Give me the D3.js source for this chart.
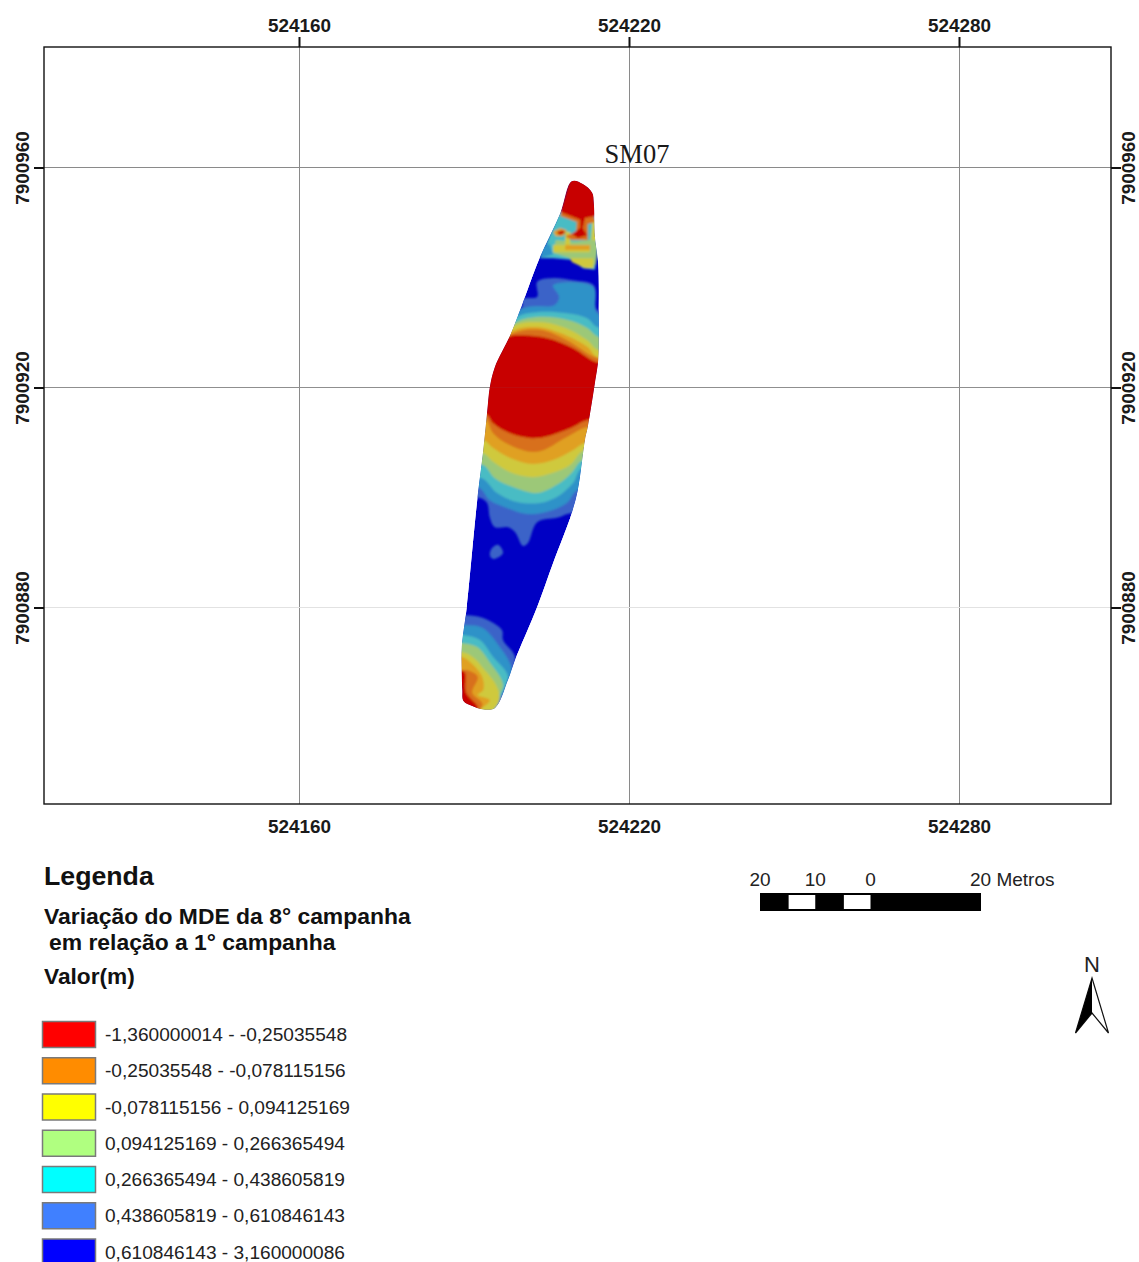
<!DOCTYPE html>
<html><head><meta charset="utf-8">
<script src="https://cdn.jsdelivr.net/npm/d3@7"></script>
<style>html,body{margin:0;background:#fff}svg{display:block}text{font-family:"Liberation Sans",Arial,sans-serif}</style>
</head><body><svg id="c" width="1139" height="1262"></svg>
<script>
// Map grid
const eastTicks=[524160,524220,524280];
const northTicks=[7900960,7900920,7900880];
const gridColors=["#8a8a8a","#8f8f8f","#e2e2e2"];
const originE=524200, originN=7900900;
// Legend
const legendLabels=["-1,360000014 - -0,25035548","-0,25035548 - -0,078115156","-0,078115156 - 0,094125169","0,094125169 - 0,266365494","0,266365494 - 0,438605819","0,438605819 - 0,610846143","0,610846143 - 3,160000086"];
const legendColors=["#ff0000","#ff8c00","#ffff00","#b0ff80","#00ffff","#4080ff","#0000ff"];
// Raster band shades as they show on the map
const cDeep="#0000c4",cMid="#3a64c8",cSky="#2f92c8",cTeal="#48bcc4",cGreen="#9cc878",cYellow="#cfc93c",cGold="#e0a020",cOrange="#d8701a",cRed="#c80606";
// Survey footprint (metres east, north of the origin)
const outline=[[9.6,57.5],[11.6,57],[13.3,55.4],[13.6,53.5],[13.8,47.4],[14.4,42.6],[14.5,32.8],[14.4,25],[13.8,20.8],[12.5,12.8],[12,10.5],[10.7,1.4],[9.6,-2.8],[6.2,-11.9],[3.3,-19.9],[-0.7,-29.5],[-2,-33.2],[-4.4,-38.3],[-6.7,-38.5],[-8.5,-37.9],[-10.1,-37],[-10.3,-35],[-10.4,-32],[-10.4,-27.2],[-9.5,-19.9],[-7.6,-0.5],[-6.5,8.6],[-5.8,15.4],[-5.3,20.1],[-4.4,23.7],[-1.6,29.5],[0.2,34.1],[3.8,43.7],[7.5,51.7]];
// Contour bands in the central lobe: painted from the outer class to the core
const midBand=[[0.5,34.6],[0.7,36.1],[3.3,36.5],[3.3,39.2],[6.2,39.9],[9.8,39.5],[13.6,38.6],[14.2,34.1],[18.4,34.1],[18.4,-3],[9.6,-2.8],[6.9,-3.7],[3.3,-4.5],[1.6,-8.3],[0.7,-8.8],[-0.7,-6.3],[-2,-5.4],[-4.4,-5.4],[-5.3,-3.7],[-5.8,-1],[-7.1,-0.1],[-10.7,0.1],[-10.7,20],[-3.5,34.1]];
const skyBand=[[0.2,34.1],[6.5,35],[7.3,36.5],[6.2,38.6],[13.5,38.3],[14.2,33.5],[18.4,33.5],[18.4,1.4],[10.7,1.4],[8.7,-1],[5.1,-2.6],[1.5,-3],[-2.2,-1.9],[-5.3,-0.5],[-7.1,1.7],[-8.9,1.7],[-8.9,20]];
const tealBand=[[-0.7,32.6],[3.3,33.7],[8.7,33.5],[12.4,32.6],[14.2,31],[18.4,31],[18.4,5.4],[11.5,5.4],[9.8,2.6],[6.9,0.1],[3.8,-1],[-0.4,-0.8],[-4,0.8],[-6.7,3.5],[-9.8,3.5],[-9.8,20]];
const greenBand=[[-1.1,31.5],[3.3,32.8],[8.7,32.3],[12.4,30.8],[14.4,29.2],[18.4,29.2],[18.4,6.8],[11.6,6.8],[9.6,4.5],[6.9,2.3],[3.3,0.8],[-1.1,1.9],[-4.4,3.5],[-6.5,5.9],[-9.8,5.9],[-9.8,20]];
const yellowBand=[[-1.3,31],[3.3,31.9],[8,31],[12.4,28.6],[14.4,26.8],[18.4,26.8],[18.4,8.6],[11.8,8.6],[9.3,5.9],[6.2,4.5],[2.5,3.7],[-1.6,4.6],[-4.7,6.5],[-6.5,8.1],[-9.8,8.1],[-9.8,20]];
const goldBand=[[-1.5,30.1],[3.3,31],[7.5,29.9],[12.4,27.4],[14.2,25.5],[18.4,25.5],[18.4,9.9],[12,9.9],[9.8,8.6],[6.2,6.8],[2.5,6.1],[-1.6,7.2],[-4.7,9],[-6.5,10.5],[-9.8,10.5],[-9.8,20]];
const orangeBand=[[-2,29.4],[3.8,30.5],[8.7,28.6],[14.2,25.4],[18.4,25.4],[18.4,12.8],[12.4,12.8],[8.7,11],[3.3,8.3],[-1.6,9.5],[-4.7,11.7],[-6.2,14.5],[-9.8,14.5],[-9.8,20]];
const redCore=[[-2,29.2],[0.7,29.5],[5.1,29],[9.8,27.2],[14.2,24.6],[18.4,24.6],[18.4,14.1],[12.5,14.1],[9.3,12.6],[3.3,10.8],[-1.6,11.7],[-4.7,13.5],[-5.8,15],[-8.9,15.9],[-7.1,24.6]];
const blueIsle=[[-4.9,-9.2],[-3.8,-8.6],[-2.9,-10.1],[-4.7,-11.2],[-5.3,-10.5]];
// Southern lobe
const southMid=[[-9.5,-21.4],[-6.5,-21.9],[-3.1,-24.1],[-2.9,-25.9],[-0.7,-29],[-2,-33.2],[-5,-40],[-14,-40],[-14,-21.4]];
const southSky=[[-9.8,-23.2],[-6.7,-23.7],[-4,-26.5],[-1.3,-31.4],[-2.9,-35],[-5,-40],[-14,-40],[-14,-23.2]];
const southTeal=[[-10.2,-25],[-7.1,-25.9],[-4.7,-29],[-2,-32.6],[-4.4,-38],[-6,-40],[-14,-40],[-14,-25]];
const southGreen=[[-10.2,-26.5],[-7.6,-27.2],[-5.3,-30],[-2.9,-34.1],[-4.4,-37.4],[-4.4,-40],[-14,-40],[-14,-26.5]];
const southYellow=[[-10.4,-28.1],[-8.4,-29],[-6.2,-31.4],[-4.4,-33.7],[-3.5,-36.3],[-4.4,-38.3],[-9,-40],[-14,-40],[-14,-28.1]];
const southGold=[[-10.4,-29],[-8.9,-29.9],[-6.7,-32.6],[-6.5,-35],[-7.5,-35.9],[-5.3,-36.8],[-6.5,-38.1],[-10.8,-40],[-14,-40],[-14,-29]];
const southOrange=[[-10.4,-31.4],[-9.3,-31.4],[-7.5,-32.6],[-8.5,-35.5],[-6.7,-37.4],[-7,-38.5],[-11,-40],[-14,-40],[-14,-31.4]];
const southRed=[[-10.4,-31.4],[-9.8,-31.9],[-9.6,-35.5],[-7.5,-38.1],[-8,-38.8],[-11,-40],[-14,-38],[-14,-31.4]];
// Northern tip, broken terrain
const tipTeal=[[3.8,43.5],[6.2,43.5],[9.8,43.2],[11.6,41.7],[13.8,41.4],[14.4,45.5],[13.8,51.7],[7.5,52.3]];
const tipSky=[[3.8,43.5],[6.2,44.2],[5.5,46.2],[4.2,45.6]];
const tipGreen=[[6.7,46.8],[10.2,46.5],[12.9,46.8],[13.3,49.4],[13.8,50.8],[14.4,48.3],[14,42.3],[10.2,42.8],[9.3,43.5],[6.2,44.5]];
const tipStripe=[[6.2,45.9],[12.9,45.9],[12.9,44.6],[6.2,44.6]];
const tipColumn=[[8.4,48.3],[9.3,48.3],[9.3,45.4],[8.4,45.4]];
const tipMosaic=[[9.3,43.5],[13.5,43.5],[13.6,41.7],[12,41.7],[9.6,42.8]];
const tipRightStrip=[[13.3,50.5],[14.1,50.5],[14.1,46.8],[13.3,46.8]];
const tipGold=[[8.4,45.9],[12.9,45.9],[12.9,45],[8.4,45]];
const tipOrange=[[7.8,52.3],[13.6,51.5],[13.8,50.1],[12.5,49.7],[12.5,46.8],[9.6,46.8],[8.4,47.5],[10.4,48.3],[10.5,50.1],[7.5,51.2]];
const tipRed=[[9.4,58.5],[12,58],[14,56],[14.4,53.5],[14,51.2],[12,50.8],[11.6,49],[12.4,47.7],[10.7,47.2],[9.6,47.9],[11.1,49],[11.1,50.5],[7.5,51.9]];
const tipPatchGold=[[6.2,48.3],[7.5,49],[8.7,48.6],[8,47.5],[6.7,47.5]];
const tipPatchRed=[[6.9,48.3],[8,48.6],[8.4,48.1],[7.3,47.7]];
const tipLayers=[[tipTeal,cTeal],[tipSky,cSky],[tipGreen,cGreen],[tipStripe,cYellow],[tipColumn,cYellow],[tipMosaic,cYellow],[tipRightStrip,cYellow],[tipGold,cGold],[tipOrange,cOrange],[tipRed,cRed],[tipPatchGold,cGold],[tipPatchRed,cRed]];
const bandLayers=[[midBand,cMid],[skyBand,cSky],[tealBand,cTeal],[greenBand,cGreen],[yellowBand,cYellow],[goldBand,cGold],[orangeBand,cOrange],[redCore,cRed],[blueIsle,cMid],
 [southMid,cMid],[southSky,cSky],[southTeal,cTeal],[southGreen,cGreen],[southYellow,cYellow],[southGold,cGold],[southOrange,cOrange],[southRed,cRed]];
// Scale bar
const barStops=[-20,-15,-10,-5,0,20];
const barFills=["#000","#fff","#000","#fff","#000"];
const barLabels=[[-20,"20"],[-10,"10"],[0,"0"]];

const svg=d3.select("#c");
const frame={l:44,r:1111,t:47,b:804};
const x=d3.scaleLinear().domain([524160,524280]).range([299,959]);
const y=d3.scaleLinear().domain([7900960,7900880]).range([167.5,607.5]);
const path=d3.line().x(d=>x(originE+d[0])).y(d=>y(originN+d[1])).curve(d3.curveLinearClosed);
const smooth=d3.line().x(d=>x(originE+d[0])).y(d=>y(originN+d[1])).curve(d3.curveCatmullRomClosed.alpha(0.5));

// gridlines under the raster
const gx=svg.append("g");
gx.selectAll("line.e").data(eastTicks).join("line").attr("class","e").attr("x1",d=>x(d)+.5).attr("x2",d=>x(d)+.5).attr("y1",frame.t).attr("y2",frame.b).attr("stroke","#8a8a8a");
gx.selectAll("line.n").data(northTicks).join("line").attr("class","n").attr("y1",d=>y(d)).attr("y2",d=>y(d)).attr("x1",frame.l).attr("x2",frame.r).attr("stroke",(d,i)=>gridColors[i]);

// raster
const defs=svg.append("defs");
defs.append("clipPath").attr("id","fp").append("path").attr("d",smooth(outline));
defs.append("filter").attr("id","soft").append("feGaussianBlur").attr("stdDeviation",0.8);
const r=svg.append("g").attr("clip-path","url(#fp)");
r.append("path").attr("d",smooth(outline)).attr("fill",cDeep);
const inner=r.append("g").attr("filter","url(#soft)");
inner.selectAll("path.b").data(bandLayers).join("path").attr("class","b").attr("d",d=>smooth(d[0])).attr("fill",d=>d[1]);
inner.selectAll("path.t").data(tipLayers).join("path").attr("class","t").attr("d",d=>path(d[0])).attr("fill",d=>d[1]);
// grid shows faintly through the raster
r.selectAll("line.n").data([7900920]).join("line").attr("class","n").attr("x1",frame.l).attr("x2",frame.r).attr("y1",d=>y(d)).attr("y2",d=>y(d)).attr("stroke","#b5141a").attr("stroke-opacity",.5);

// frame and ticks
svg.append("rect").attr("x",frame.l).attr("y",frame.t).attr("width",frame.r-frame.l).attr("height",frame.b-frame.t).attr("fill","none").attr("stroke","#111").attr("stroke-width",1.4);
const fmt=d3.format("d");
function axis(gen,tr){
  const g=svg.append("g").attr("transform",tr).call(gen.tickSize(10).tickPadding(5).tickFormat(fmt));
  g.select(".domain").remove();
  g.selectAll("line").attr("stroke","#111").attr("stroke-width",2);
  g.selectAll("text").attr("font-size",18.9).attr("font-weight","bold").attr("fill","#1a1a1a").style("font-family","'Liberation Sans',Arial,sans-serif");
  return g;
}
axis(d3.axisTop(x).tickValues(eastTicks),`translate(0,${frame.t})`);
const bot=axis(d3.axisBottom(x).tickValues(eastTicks),`translate(0,${frame.b})`);
bot.selectAll("line").remove();
bot.selectAll("text").attr("y",16);
const yl=axis(d3.axisLeft(y).tickValues(northTicks),`translate(${frame.l},0)`);
yl.selectAll("text").attr("transform","translate(-22,0) rotate(-90)").attr("x",0).attr("y",0).attr("dy","0.36em").attr("text-anchor","middle");
const yr=axis(d3.axisRight(y).tickValues(northTicks),`translate(${frame.r},0)`);
yr.selectAll("text").attr("transform","translate(17,0) rotate(-90)").attr("x",0).attr("y",0).attr("dy","0.36em").attr("text-anchor","middle");

svg.append("text").attr("x",637).attr("y",163).attr("text-anchor","middle").attr("font-size",26.5).style("font-family","'Liberation Serif',serif").attr("fill","#1a1a1a").text("SM07");

// legend text
const T=[["Legenda",44,885,26.7],["Variação do MDE da 8° campanha",44,924,22.9],["em relação a 1° campanha",49,950,22.9],["Valor(m)",44,984,22.7]];
svg.selectAll("text.h").data(T).join("text").attr("class","h").attr("x",d=>d[1]).attr("y",d=>d[2]).attr("font-size",d=>d[3]).attr("font-weight","bold").attr("fill","#111").text(d=>d[0]);
const ly=d3.scalePoint().domain(d3.range(7)).range([1021,1238.5]);
const lg=svg.selectAll("g.l").data(legendLabels).join("g").attr("class","l").attr("transform",(d,i)=>`translate(0,${ly(i)})`);
lg.append("rect").attr("x",42.5).attr("y",.5).attr("width",53).attr("height",26).attr("fill",(d,i)=>legendColors[i]).attr("stroke","#7a7a7a").attr("stroke-width",1.5);
lg.append("text").attr("x",105).attr("y",20).attr("font-size",19.1).attr("fill","#222").text(d=>d);

// scale bar
const sb=d3.scaleLinear().domain([-20,20]).range([760,981]);
svg.append("rect").attr("x",sb(-20)).attr("y",893).attr("width",sb(20)-sb(-20)).attr("height",18).attr("fill","#000");
svg.selectAll("rect.s").data(barFills).join("rect").attr("class","s").attr("x",(d,i)=>sb(barStops[i])+1).attr("width",(d,i)=>sb(barStops[i+1])-sb(barStops[i])-1).attr("y",895).attr("height",14).attr("fill",d=>d);
svg.selectAll("text.s").data(barLabels).join("text").attr("class","s").attr("x",d=>sb(d[0])).attr("y",886).attr("text-anchor","middle").attr("font-size",19).attr("fill","#222").text(d=>d[1]);
svg.append("text").attr("x",970).attr("y",886).attr("font-size",19).attr("fill","#222").text("20 Metros");

// north arrow
svg.append("text").attr("x",1092).attr("y",972).attr("text-anchor","middle").attr("font-size",22).attr("fill","#222").text("N");
svg.append("path").attr("d","M1092 978L1108.5 1033L1092 1013L1075.5 1033Z").attr("fill","#fff").attr("stroke","#111").attr("stroke-width",1.2);
svg.append("path").attr("d","M1092 978L1075.5 1033L1092 1013Z").attr("fill","#000");
</script></body></html>
